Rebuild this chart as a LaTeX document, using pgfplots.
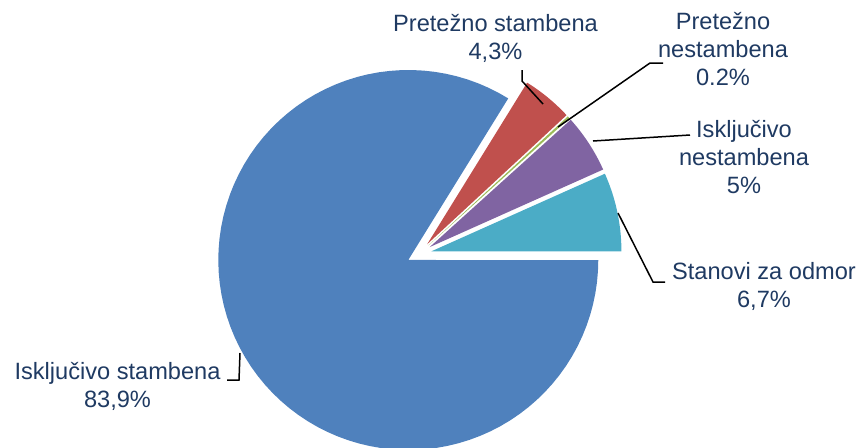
\documentclass[border=0pt]{standalone}
\usepackage{pgfplots}
\pgfplotsset{compat=1.18}
\usepackage{fontspec}
\setmainfont{Liberation Sans}
\definecolor{pieBlue}{HTML}{4F81BD}
\definecolor{pieRed}{HTML}{C0504D}
\definecolor{pieOlive}{HTML}{9BBB59}
\definecolor{piePurple}{HTML}{8064A2}
\definecolor{pieCyan}{HTML}{4BACC6}
\definecolor{labelcol}{RGB}{31,58,98}
\tikzset{lbl/.style={text=labelcol, align=center, font=\fontsize{11.8}{14}\selectfont, inner sep=0pt}}
% slice: colour, cumulative start (%), cumulative end (%)
\newcommand\pieslice[3]{%
  \pgfmathsetmacro\sa{#2/100.1*360}%
  \pgfmathsetmacro\sb{#3/100.1*360}%
  \pgfmathsetmacro\sm{(\sa+\sb)/2}%
  \pgfmathsetmacro\cx{419.2+12.5*cos(\sm)}%
  \pgfmathsetmacro\cy{193.1+12.5*sin(\sm)}%
  \edef\temp{\noexpand\addplot[fill=#1, draw=none, domain=\sa:\sb, samples=90, variable=\noexpand\t]
    ({\cx+190*cos(\noexpand\t)}, {\cy+190*sin(\noexpand\t)}) -- (axis cs:\cx,\cy) -- cycle;}%
  \temp
}
\begin{document}
\begin{tikzpicture}
\begin{axis}[
  scale only axis, width=430pt, height=223.5pt,
  xmin=0, xmax=860, ymin=0, ymax=447,
  hide axis, clip mode=individual,
]
% values: Stanovi za odmor 6.7, Isključivo nestambena 5, Pretežno nestambena 0.2,
% Pretežno stambena 4.3, Isključivo stambena 83.9
\pieslice{pieCyan}{0}{6.7}
\pieslice{piePurple}{6.7}{11.7}
\pieslice{pieOlive}{11.7}{11.9}
\pieslice{pieRed}{11.9}{16.2}
\pieslice{pieBlue}{16.2}{100.1}
% leader lines
\addplot[black, line width=0.75pt] coordinates {(522,377) (522,366) (543,343)};
\addplot[black, line width=0.75pt] coordinates {(663,384) (650,384) (558,320)};
\addplot[black, line width=0.75pt] coordinates {(593,306) (690,312)};
\addplot[black, line width=0.75pt] coordinates {(618,234) (653,165) (665,165)};
\addplot[black, line width=0.75pt] coordinates {(240,94) (239,67) (227,67)};
% labels
\node[lbl] at (axis cs:495.5,408.5) {Pretežno stambena\\4,3\%};
\node[lbl] at (axis cs:723,397.5) {Pretežno\\nestambena\\0.2\%};
\node[lbl] at (axis cs:744,289.5) {Isključivo\\nestambena\\5\%};
\node[lbl] at (axis cs:764,160.5) {Stanovi za odmor\\6,7\%};
\node[lbl] at (axis cs:117.5,60.5) {Isključivo stambena\\83,9\%};
\end{axis}
\pgfresetboundingbox
\path (current axis.south west) rectangle (current axis.north east);
\end{tikzpicture}
\end{document}
